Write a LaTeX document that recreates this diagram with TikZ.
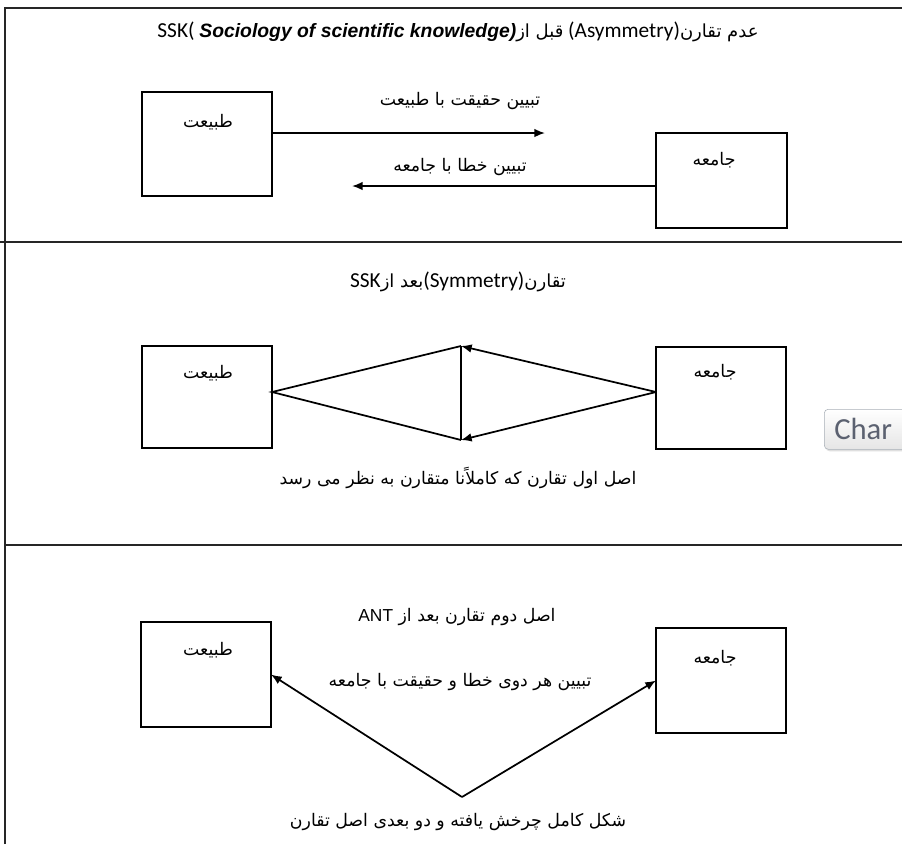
\documentclass[tikz,border=0pt]{standalone}
\usepackage{fontspec}
\usetikzlibrary{arrows.meta,calc,shadows}
\setmainfont{Liberation Sans}
\newfontfamily\arabicfont[Script=Arabic]{DejaVu Sans}
\newfontfamily\calib{Carlito}
\TeXXeTstate=1
\newcommand{\artxt}[1]{{\arabicfont\beginR #1\endR}}
\definecolor{charc}{HTML}{5B6170}
\definecolor{btnborder}{HTML}{A9B0B8}
\begin{document}
\begin{tikzpicture}[x=0.75pt,y=-0.75pt,
  frameline/.style={line width=1.3pt, draw=black!85},
  box/.style={draw, line width=1.3pt, inner sep=0pt, outer sep=0pt, minimum width=97.5pt},
  conn/.style={line width=1.3pt},
  tip/.style={-{Latex[length=8pt,width=6.5pt]}},
  lbl/.style={inner sep=0pt, font=\arabicfont\fontsize{13}{15}\selectfont},
  ttl/.style={inner sep=0pt, font=\calib\fontsize{16}{18}\selectfont}]
\useasboundingbox (0,0) rectangle (902,844);
\clip (0,0) rectangle (902,844);
\fill[white] (0,0) rectangle (902,844);

% frame
\draw[frameline] (5,844) -- (5,8) -- (902,8);
\draw[frameline] (0,242) -- (902,242);
\draw[frameline] (5,545) -- (902,545);

% panel 1
\node[ttl] (t1) at (458,32) {\beginL SSK( {\rmfamily\bfseries\itshape\fontsize{14.5}{17}\selectfont Sociology of scientific knowledge)}{\arabicfont\fontsize{13.5}{15}\selectfont\beginR قبل از\endR} (Asymmetry){\arabicfont\fontsize{13.5}{15}\selectfont\beginR عدم تقارن\endR}\endL};
\node[box, minimum height=78pt] (nat1) at (207,144) {};
\node[box, minimum width=98.25pt, minimum height=71.25pt] (soc1) at (721.5,180.5) {};
\node[lbl] (nat1t) at (208,122) {\artxt{طبیعت}};
\node[lbl] (soc1t) at (714,160) {\artxt{جامعه}};
\coordinate (e1) at (545,133);
\coordinate (e2) at (352,186);
\draw[conn,tip] (nat1.east |- e1) -- (e1);
\draw[conn,tip] (soc1.west |- e2) -- (e2);
\node[lbl] (l1) at (460,101) {\artxt{تبیین حقیقت با طبیعت}};
\node[lbl] (l2) at (460,167) {\artxt{تبیین خطا با جامعه}};

% panel 2
\node[ttl] (t2) at (458,282) {\beginL SSK{\arabicfont\fontsize{13.5}{15}\selectfont\beginR بعد از\endR}(Symmetry){\arabicfont\fontsize{13.5}{15}\selectfont\beginR تقارن\endR}\endL};
\node[box, minimum height=76.5pt] (nat2) at (207,397) {};
\node[box, minimum height=76.5pt] (soc2) at (721,398) {};
\node[lbl] (nat2t) at (208,373) {\artxt{طبیعت}};
\node[lbl] (soc2t) at (715,372) {\artxt{جامعه}};
\coordinate (top2) at (461,346);
\coordinate (bot2) at (461,440);
\draw[conn] (top2) -- ([yshift=3.75pt]nat2.east) -- (bot2);
\draw[conn] (top2) -- (bot2);
\draw[conn,tip] ([yshift=4.5pt]soc2.west) -- (top2);
\draw[conn,tip] ([yshift=4.5pt]soc2.west) -- (bot2);
\node[lbl] (c2) at (458,478) {\artxt{اصل اول تقارن که کاملاًنا متقارن به نظر می رسد}};

% button fragment
\node[draw=btnborder, rounded corners=3pt, top color=white, bottom color=black!10,
      drop shadow={opacity=0.25, shadow xshift=1pt, shadow yshift=-1.5pt},
      minimum height=30pt, minimum width=90pt, anchor=north west, inner sep=0pt] (chrbtn) at (824,409) {};
\node[anchor=base west, inner sep=0pt, text=charc, font=\calib\fontsize{23}{25}\selectfont] (chrtxt) at (834,439) {Char};

% panel 3
\node[lbl] (t3) at (457,617) {\artxt{اصل دوم تقارن بعد از \beginL{\rmfamily ANT}\endL}};
\node[box, minimum height=78.75pt] (nat3) at (206,674.5) {};
\node[box, minimum height=78.75pt] (soc3) at (721,680.5) {};
\node[lbl] (nat3t) at (208,650) {\artxt{طبیعت}};
\node[lbl] (soc3t) at (715,658) {\artxt{جامعه}};
\coordinate (v3) at (462,797);
\draw[conn,tip] (v3) -- (nat3.east);
\draw[conn,tip] (v3) -- (soc3.west);
\node[lbl] (l3) at (460,682) {\artxt{تبیین هر دوی خطا و حقیقت با جامعه}};
\node[lbl] (c3) at (458,822) {\artxt{شکل کامل چرخش یافته و دو بعدی اصل تقارن}};
\end{tikzpicture}
\end{document}
